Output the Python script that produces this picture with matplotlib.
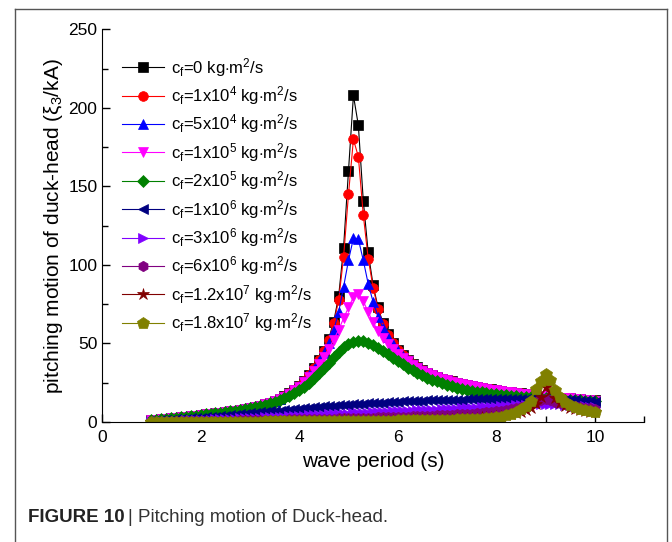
import numpy as np
import matplotlib
matplotlib.use("Agg")
import matplotlib.pyplot as plt
from matplotlib.lines import Line2D

plt.rcParams['font.family'] = ['Liberation Sans', 'DejaVu Sans']
plt.rcParams['mathtext.fontset'] = 'custom'
plt.rcParams['mathtext.rm'] = 'Liberation Sans'
plt.rcParams['mathtext.it'] = 'Liberation Sans:italic'

# wave period grid (s)
period = np.round(np.arange(1.0, 10.01, 0.1), 1)

cf_0 = [1.3, 1.5, 1.8, 2.1, 2.4, 2.7, 3.0, 3.3, 3.7, 4.0,
        4.4, 4.8, 5.1, 5.5, 5.9, 6.4, 6.8, 7.3, 7.8, 8.4,
        9.0, 9.7, 10.5, 11.4, 12.4, 13.5, 14.8, 16.3, 18.3, 20.5,
        23.0, 26.0, 30.0, 34.5, 39.5, 45.5, 53.0, 64.0, 80.0, 111,
        160, 208, 189, 141, 108, 87, 73, 63, 56, 50.5,
        46, 42.5, 39.5, 37, 35, 33, 31.5, 30, 28.8, 27.7,
        26.7, 25.8, 25.0, 24.2, 23.5, 22.9, 22.3, 21.8, 21.3, 20.8,
        20.4, 19.9, 19.4, 19.0, 18.6, 18.2, 17.8, 17.5, 17.1, 16.8,
        16.5, 16.2, 15.9, 15.6, 15.3, 15.1, 14.8, 14.5, 14.2, 14.0, 13.7]

cf_1e4 = [1.3, 1.5, 1.8, 2.1, 2.4, 2.7, 3.0, 3.3, 3.7, 4.0,
          4.4, 4.8, 5.1, 5.5, 5.9, 6.4, 6.8, 7.3, 7.8, 8.4,
          9.0, 9.7, 10.5, 11.4, 12.4, 13.5, 14.8, 16.3, 18.3, 20.5,
          23.0, 26.0, 30.0, 34.4, 39.3, 45.2, 52.5, 62.8, 77.5, 105,
          145, 180, 169, 132, 104, 85.5, 72, 62.5, 55.5, 50.2,
          46, 42.5, 39.5, 37, 35, 33, 31.5, 30, 28.8, 27.7,
          26.7, 25.8, 25.0, 24.2, 23.5, 22.9, 22.3, 21.8, 21.3, 20.8,
          20.4, 19.9, 19.4, 19.0, 18.6, 18.2, 17.8, 17.5, 17.1, 16.8,
          16.5, 16.2, 15.9, 15.6, 15.3, 15.1, 14.8, 14.5, 14.2, 14.0, 13.7]

cf_5e4 = [1.3, 1.5, 1.8, 2.1, 2.4, 2.7, 3.0, 3.3, 3.7, 4.0,
          4.4, 4.8, 5.1, 5.5, 5.9, 6.4, 6.8, 7.3, 7.8, 8.4,
          9.0, 9.7, 10.5, 11.4, 12.4, 13.5, 14.8, 16.3, 18.3, 20.5,
          22.9, 25.8, 29.7, 34.0, 38.6, 43.9, 50.3, 58.5, 70.0, 86.0,
          103, 117, 116.5, 103, 88, 76.5, 67, 60, 54.3, 49.5,
          45.5, 42.2, 39.3, 36.8, 34.8, 32.9, 31.4, 29.9, 28.7, 27.6,
          26.7, 25.8, 25.0, 24.2, 23.5, 22.9, 22.3, 21.8, 21.3, 20.8,
          20.4, 19.9, 19.4, 19.0, 18.6, 18.2, 17.8, 17.5, 17.1, 16.8,
          16.5, 16.2, 15.9, 15.6, 15.3, 15.1, 14.8, 14.5, 14.2, 14.0, 13.7]

cf_1e5 = [1.3, 1.5, 1.8, 2.1, 2.4, 2.7, 3.0, 3.3, 3.7, 4.0,
          4.4, 4.8, 5.1, 5.5, 5.9, 6.4, 6.8, 7.3, 7.8, 8.4,
          9.0, 9.7, 10.5, 11.4, 12.4, 13.5, 14.7, 16.2, 18.1, 20.2,
          22.5, 25.3, 28.8, 32.6, 36.8, 41.5, 46.7, 52.5, 58.8, 66.0,
          73.0, 79.5, 81.5, 77.0, 70.0, 63.5, 58.0, 53.5, 49.8, 46.5,
          43.6, 41.0, 38.6, 36.4, 34.5, 32.7, 31.2, 29.8, 28.6, 27.5,
          26.6, 25.7, 24.9, 24.1, 23.4, 22.8, 22.2, 21.7, 21.2, 20.7,
          20.3, 19.8, 19.3, 18.9, 18.5, 18.1, 17.7, 17.4, 17.0, 16.7,
          16.4, 16.1, 15.8, 15.5, 15.2, 15.0, 14.7, 14.4, 14.1, 13.9, 13.6]

cf_2e5 = [1.3, 1.5, 1.8, 2.1, 2.4, 2.7, 3.0, 3.3, 3.7, 4.0,
          4.4, 4.8, 5.1, 5.5, 5.9, 6.3, 6.8, 7.3, 7.8, 8.3,
          8.9, 9.5, 10.2, 11.0, 11.9, 12.9, 14.0, 15.3, 16.8, 18.5,
          20.3, 22.5, 25.0, 27.8, 30.9, 34.2, 37.8, 41.5, 44.8, 47.6,
          49.6, 50.9, 51.6, 51.4, 50.5, 49.1, 47.3, 45.3, 43.2, 41.0,
          38.8, 36.7, 34.7, 32.9, 31.2, 29.7, 28.3, 27.0, 25.8, 24.6,
          23.6, 22.7, 21.9, 21.2, 20.5, 19.9, 19.4, 18.9, 18.4, 18.0,
          17.6, 17.3, 17.0, 16.7, 16.4, 16.1, 15.9, 15.7, 15.5, 15.3,
          15.1, 14.9, 14.7, 14.5, 14.3, 14.1, 13.9, 13.7, 13.5, 13.3, 13.1]

cf_1e6 = [0.6, 0.8, 1.0, 1.2, 1.4, 1.6, 1.8, 2.0, 2.3, 2.5,
          2.8, 3.0, 3.3, 3.5, 3.8, 4.1, 4.4, 4.7, 5.0, 5.2,
          5.5, 5.8, 6.1, 6.4, 6.7, 7.0, 7.3, 7.6, 7.9, 8.2,
          8.5, 8.8, 9.1, 9.4, 9.6, 9.9, 10.1, 10.4, 10.6, 10.9,
          11.1, 11.3, 11.5, 11.7, 11.9, 12.1, 12.3, 12.4, 12.6, 12.8,
          12.9, 13.1, 13.2, 13.3, 13.5, 13.6, 13.7, 13.8, 13.9, 14.0,
          14.1, 14.2, 14.3, 14.3, 14.4, 14.5, 14.5, 14.6, 14.7, 14.7,
          14.8, 14.8, 14.8, 14.9, 14.9, 14.9, 14.9, 14.9, 14.8, 14.8,
          14.7, 14.6, 14.5, 14.4, 14.2, 14.0, 13.8, 13.6, 13.3, 13.1, 12.8]

cf_3e6 = [0.3, 0.4, 0.5, 0.6, 0.7, 0.8, 0.9, 1.0, 1.1, 1.2,
          1.3, 1.4, 1.5, 1.7, 1.8, 1.9, 2.0, 2.2, 2.3, 2.4,
          2.6, 2.7, 2.8, 3.0, 3.1, 3.3, 3.4, 3.5, 3.7, 3.8,
          4.0, 4.1, 4.3, 4.4, 4.6, 4.7, 4.8, 5.0, 5.1, 5.3,
          5.4, 5.6, 5.7, 5.8, 6.0, 6.1, 6.3, 6.4, 6.5, 6.7,
          6.8, 7.0, 7.1, 7.2, 7.4, 7.5, 7.7, 7.8, 7.9, 8.1,
          8.2, 8.4, 8.5, 8.7, 8.8, 9.0, 9.1, 9.3, 9.5, 9.6,
          9.8, 10.0, 10.2, 10.4, 10.6, 10.8, 11.0, 11.2, 11.4, 11.6,
          11.7, 11.7, 11.6, 11.4, 11.1, 10.8, 10.5, 10.2, 9.9, 9.6, 9.3]

cf_6e6 = [0.2, 0.2, 0.3, 0.3, 0.3, 0.4, 0.4, 0.4, 0.5, 0.5,
          0.6, 0.6, 0.7, 0.7, 0.8, 0.8, 0.9, 0.9, 1.0, 1.1,
          1.1, 1.2, 1.2, 1.3, 1.3, 1.4, 1.5, 1.5, 1.6, 1.7,
          1.7, 1.8, 1.9, 1.9, 2.0, 2.1, 2.1, 2.2, 2.3, 2.4,
          2.4, 2.5, 2.6, 2.7, 2.8, 2.8, 2.9, 3.0, 3.1, 3.2,
          3.3, 3.4, 3.5, 3.6, 3.7, 3.8, 3.9, 4.0, 4.2, 4.3,
          4.5, 4.6, 4.8, 4.9, 5.1, 5.4, 5.6, 5.9, 6.2, 6.5,
          6.8, 7.2, 7.7, 8.2, 8.8, 9.5, 10.4, 11.5, 12.8, 14.0,
          14.5, 14.0, 13.0, 12.0, 11.3, 10.7, 10.1, 9.6, 9.2, 8.8, 8.5]

cf_12e6 = [0.1, 0.1, 0.1, 0.1, 0.2, 0.2, 0.2, 0.2, 0.2, 0.2,
           0.3, 0.3, 0.3, 0.3, 0.3, 0.4, 0.4, 0.4, 0.4, 0.4,
           0.5, 0.5, 0.5, 0.5, 0.6, 0.6, 0.6, 0.6, 0.7, 0.7,
           0.7, 0.7, 0.8, 0.8, 0.8, 0.9, 0.9, 0.9, 1.0, 1.0,
           1.0, 1.1, 1.1, 1.1, 1.2, 1.2, 1.3, 1.3, 1.3, 1.4,
           1.4, 1.5, 1.5, 1.6, 1.6, 1.7, 1.8, 1.8, 1.9, 2.0,
           2.1, 2.2, 2.3, 2.4, 2.5, 2.6, 2.8, 3.0, 3.2, 3.4,
           3.7, 4.0, 4.4, 4.9, 5.5, 6.3, 7.4, 9.0, 11.5, 16.0,
           22.0, 19.5, 15.0, 12.0, 10.2, 9.0, 8.2, 7.5, 7.0, 6.6, 6.2]

cf_18e6 = [0.1, 0.1, 0.1, 0.1, 0.1, 0.1, 0.1, 0.1, 0.1, 0.2,
           0.2, 0.2, 0.2, 0.2, 0.2, 0.2, 0.3, 0.3, 0.3, 0.3,
           0.3, 0.3, 0.3, 0.4, 0.4, 0.4, 0.4, 0.4, 0.4, 0.5,
           0.5, 0.5, 0.5, 0.5, 0.6, 0.6, 0.6, 0.6, 0.6, 0.7,
           0.7, 0.7, 0.7, 0.8, 0.8, 0.8, 0.8, 0.9, 0.9, 0.9,
           1.0, 1.0, 1.0, 1.1, 1.1, 1.2, 1.2, 1.3, 1.3, 1.4,
           1.5, 1.5, 1.6, 1.7, 1.8, 1.9, 2.0, 2.2, 2.4, 2.6,
           3.0, 3.5, 4.2, 5.2, 6.5, 8.2, 10.3, 13.5, 21.0, 26.0,
           30.5, 27.0, 20.5, 16.0, 13.0, 11.0, 9.5, 8.5, 7.7, 7.0, 6.4]

labels = [r'c$_\mathrm{f}$=0 kg$\cdot$m$^2$/s',
          r'c$_\mathrm{f}$=1x10$^4$ kg$\cdot$m$^2$/s',
          r'c$_\mathrm{f}$=5x10$^4$ kg$\cdot$m$^2$/s',
          r'c$_\mathrm{f}$=1x10$^5$ kg$\cdot$m$^2$/s',
          r'c$_\mathrm{f}$=2x10$^5$ kg$\cdot$m$^2$/s',
          r'c$_\mathrm{f}$=1x10$^6$ kg$\cdot$m$^2$/s',
          r'c$_\mathrm{f}$=3x10$^6$ kg$\cdot$m$^2$/s',
          r'c$_\mathrm{f}$=6x10$^6$ kg$\cdot$m$^2$/s',
          r'c$_\mathrm{f}$=1.2x10$^7$ kg$\cdot$m$^2$/s',
          r'c$_\mathrm{f}$=1.8x10$^7$ kg$\cdot$m$^2$/s']

series = [cf_0, cf_1e4, cf_5e4, cf_1e5, cf_2e5, cf_1e6, cf_3e6, cf_6e6, cf_12e6, cf_18e6]
colors = ['#000000', '#ff0000', '#0000ff', '#ff00ff', '#008000',
          '#000080', '#8000ff', '#800080', '#800000', '#808000']
markers = ['s', 'o', '^', 'v', 'D', '<', '>', 'h', '*', 'p']
msizes = [6.5, 7, 7.5, 7.5, 6.5, 7.5, 7.5, 7.5, 9, 9]

fig = plt.figure(figsize=(6.72, 5.42), dpi=100)
ax = fig.add_axes([0.152, 0.2214, 0.8065, 0.7242])

for y, lab, c, m, ms in zip(series, labels, colors, markers, msizes):
    ax.plot(period, y, color=c, lw=0.8, marker=m, markersize=ms,
            markerfacecolor=c, markeredgecolor=c, markeredgewidth=0.5, label=lab)

ax.set_xlim(0, 11)
ax.set_ylim(0, 250)
ax.set_xticks([0, 2, 4, 6, 8, 10])
ax.set_xticks([1, 3, 5, 7, 9, 11], minor=True)
ax.set_yticks([0, 50, 100, 150, 200, 250])
ax.set_yticks([25, 75, 125, 175, 225], minor=True)
ax.tick_params(which='both', direction='in', labelsize=12.5, width=1, colors='black')
ax.tick_params(which='major', length=6)
ax.tick_params(which='minor', length=4)
ax.tick_params(axis='x', which='major', pad=6)
ax.spines['top'].set_visible(False)
ax.spines['right'].set_visible(False)
ax.set_xlabel('wave period (s)', fontsize=15, labelpad=5)
ax.set_ylabel(r'pitching motion of duck-head (ξ$_3$/kA)', fontsize=15, labelpad=2)

ax.legend(loc='upper left', bbox_to_anchor=(0.025, 0.95), frameon=False,
          fontsize=12, handlelength=2.5, handletextpad=0.4, labelspacing=0.33,
          borderaxespad=0)

# outer frame of the figure panel
frame_col = '#555555'
fig.add_artist(Line2D([15/672, 15/672], [0, 1-9/542], color=frame_col, lw=1))
fig.add_artist(Line2D([15/672, 667/672], [1-9/542, 1-9/542], color=frame_col, lw=1))
fig.add_artist(Line2D([667/672, 667/672], [1-9/542, 0], color=frame_col, lw=1))

# caption
t1 = fig.text(28/672, 1-518/542, 'FIGURE 10', fontsize=13.5, fontweight='bold',
              color='#222222', va='center', ha='left')
fig.canvas.draw()
bb = t1.get_window_extent(renderer=fig.canvas.get_renderer())
fig.text((bb.x1 + 3)/672, 1-518/542, '| Pitching motion of Duck-head.', fontsize=13.5,
         color='#333333', va='center', ha='left')

plt.savefig('out.png', dpi=100)
